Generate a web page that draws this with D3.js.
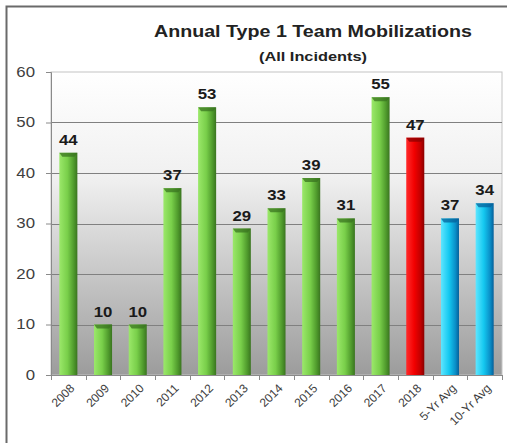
<!DOCTYPE html>
<html>
<head>
<meta charset="utf-8">
<script src="https://cdn.jsdelivr.net/npm/d3@7"></script>
<style>
  html, body { margin: 0; padding: 0; background: #fff; }
  svg { display: block; font-family: "Liberation Sans", Arial, sans-serif; }
</style>
</head>
<body>
<div id="chart"></div>
<script>
// chart data
const categories = ['2008', '2009', '2010', '2011', '2012', '2013', '2014', '2015', '2016', '2017', '2018', '5-Yr Avg', '10-Yr Avg'];
const values = [44, 10, 10, 37, 53, 29, 33, 39, 31, 55, 47, 31, 34];
// labels as printed on the original (5-Yr Avg label differs from its bar)
const labels = ['44', '10', '10', '37', '53', '29', '33', '39', '31', '55', '47', '37', '34'];
const kinds = ['year', 'year', 'year', 'year', 'year', 'year', 'year', 'year', 'year', 'year', 'current', 'avg', 'avg'];
const yTicks = [0, 10, 20, 30, 40, 50, 60];

const width = 507, height = 443;
const plot = { left: 51, right: 502, top: 72, bottom: 375 };
// the source picture was stretched sideways, text too
const stretch = 1.2;

const svg = d3.select('#chart').append('svg')
    .attr('width', width)
    .attr('height', height);

const defs = svg.append('defs');

const bg = defs.append('linearGradient')
    .attr('id', 'bg').attr('x1', 0).attr('y1', 0).attr('x2', 0).attr('y2', 1);
bg.append('stop').attr('offset', '0%').attr('stop-color', '#ffffff');
bg.append('stop').attr('offset', '35%').attr('stop-color', '#f0f0f0');
bg.append('stop').attr('offset', '100%').attr('stop-color', '#9c9c9c');

// horizontal shading per bar type
const palettes = {
    year: ['#9be86a', '#79cf4a', '#4f9a2c', '#3a7420'],
    current: ['#ff2a2a', '#f20000', '#c00000', '#8a0000'],
    avg: ['#5fe6ff', '#14c8f0', '#0a8fc8', '#05609a']
};
Object.entries(palettes).forEach(([k, c]) => {
    const g = defs.append('linearGradient')
        .attr('id', 'bar-' + k).attr('x1', 0).attr('y1', 0).attr('x2', 1).attr('y2', 0);
    g.append('stop').attr('offset', '0%').attr('stop-color', c[0]);
    g.append('stop').attr('offset', '45%').attr('stop-color', c[1]);
    g.append('stop').attr('offset', '80%').attr('stop-color', c[2]);
    g.append('stop').attr('offset', '100%').attr('stop-color', c[3]);
});

// outer frame
svg.append('path')
    .attr('d', `M6.5,${height} V6.5 H${width}`)
    .attr('fill', 'none')
    .attr('stroke', '#6a6a6a')
    .attr('stroke-width', 2);

const x = d3.scaleBand()
    .domain(categories)
    .range([plot.left, plot.right])
    .paddingInner(0.48)
    .paddingOuter(0.24);

const y = d3.scaleLinear()
    .domain([0, 60])
    .range([plot.bottom, plot.top]);

// plot background
svg.append('rect')
    .attr('x', plot.left).attr('y', plot.top)
    .attr('width', plot.right - plot.left)
    .attr('height', plot.bottom - plot.top)
    .attr('fill', 'url(#bg)')
    .attr('stroke', '#c4c4c4');

// gridlines
svg.append('g')
    .selectAll('line')
    .data(yTicks.filter(d => d > 0 && d < 60))
    .join('line')
    .attr('x1', plot.left).attr('x2', plot.right)
    .attr('y1', d => Math.round(y(d)) + 0.5).attr('y2', d => Math.round(y(d)) + 0.5)
    .attr('stroke', '#808080');

// y axis
const yAxis = svg.append('g')
    .attr('transform', `translate(${plot.left},0)`)
    .call(d3.axisLeft(y).tickValues(yTicks).tickSize(5));
yAxis.select('.domain').attr('stroke', '#8a8a8a');
yAxis.selectAll('.tick line').attr('stroke', '#8a8a8a');
yAxis.selectAll('.tick text')
    .attr('x', null)
    .attr('transform', `translate(-16,0) scale(${stretch},1)`)
    .attr('font-size', 14)
    .attr('fill', '#404040')
    .attr('font-family', '"Liberation Sans", Arial, sans-serif');

// x axis with tick marks between categories
const step = x.step();
const xAxisG = svg.append('g')
    .attr('transform', `translate(0,${plot.bottom})`);
xAxisG.append('line')
    .attr('x1', plot.left).attr('x2', plot.right)
    .attr('y1', 0.5).attr('y2', 0.5)
    .attr('stroke', '#8a8a8a');
xAxisG.selectAll('line.tk')
    .data(d3.range(categories.length + 1))
    .join('line')
    .attr('class', 'tk')
    .attr('x1', i => Math.round(plot.left + i * step) + 0.5)
    .attr('x2', i => Math.round(plot.left + i * step) + 0.5)
    .attr('y1', 0).attr('y2', 5)
    .attr('stroke', '#8a8a8a');
xAxisG.selectAll('text')
    .data(categories)
    .join('text')
    .attr('transform', d => `translate(${x(d) + x.bandwidth() / 2 + 4},${11}) rotate(-45)`)
    .attr('text-anchor', 'end')
    .attr('dy', '0.35em')
    .attr('font-size', 12)
    .attr('fill', '#404040')
    .text(d => d);

// bars
const bars = svg.append('g')
    .selectAll('g')
    .data(categories)
    .join('g');

bars.append('rect')
    .attr('x', d => x(d))
    .attr('y', (d, i) => y(values[i]))
    .attr('width', x.bandwidth())
    .attr('height', (d, i) => y(0) - y(values[i]))
    .attr('fill', (d, i) => `url(#bar-${kinds[i]})`);

// top bevel
bars.append('path')
    .attr('d', (d, i) => {
        const x0 = x(d), x1 = x0 + x.bandwidth(), y0 = y(values[i]);
        return `M${x0},${y0} H${x1} L${x1 - 3},${y0 + 4} H${x0 + 3} Z`;
    })
    .attr('fill', (d, i) => palettes[kinds[i]][3])
    .attr('opacity', 0.75);

// value labels
bars.append('text')
    .attr('transform', (d, i) => `translate(${x(d) + x.bandwidth() / 2},${y(values[i]) - 8}) scale(${stretch},1)`)
    .attr('text-anchor', 'middle')
    .attr('font-size', 14)
    .attr('font-weight', 'bold')
    .attr('fill', '#1a1a1a')
    .text((d, i) => labels[i]);

// titles
svg.append('text')
    .attr('x', 313).attr('y', 37)
    .attr('text-anchor', 'middle')
    .attr('font-size', 16.5)
    .attr('font-weight', 'bold')
    .attr('fill', '#222')
    .attr('textLength', 318)
    .attr('lengthAdjust', 'spacingAndGlyphs')
    .text('Annual Type 1 Team Mobilizations');

svg.append('text')
    .attr('x', 313).attr('y', 61)
    .attr('text-anchor', 'middle')
    .attr('font-size', 12.5)
    .attr('font-weight', 'bold')
    .attr('fill', '#222')
    .attr('textLength', 108)
    .attr('lengthAdjust', 'spacingAndGlyphs')
    .text('(All Incidents)');
</script>
</body>
</html>
